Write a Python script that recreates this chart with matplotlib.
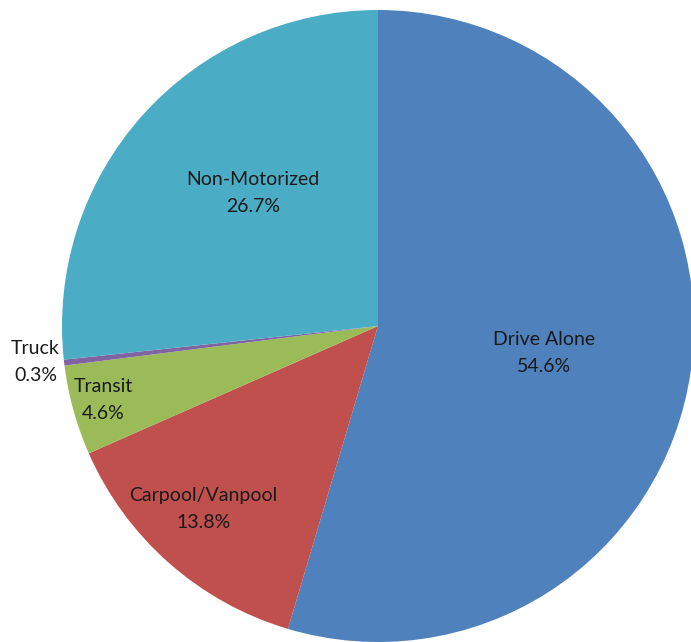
import numpy as np
import matplotlib.pyplot as plt

modes = ['Drive Alone', 'Carpool/Vanpool', 'Transit', 'Truck', 'Non-Motorized']
shares = [54.6, 13.8, 4.6, 0.3, 26.7]
colors = ['#4F81BD', '#C0504D', '#9BBB59', '#8064A2', '#4BACC6']

# label placement: radial distance and small angle shift from wedge middle
label_dist = [0.532, 0.80, 0.90, 1.09, 0.578]
label_shift = [-1.0, -2.2, -0.4, -0.7, -4.9]

fig = plt.figure(figsize=(6.91, 6.42), dpi=100)
ax = fig.add_axes([0, 0, 1, 1])

wedges, _ = ax.pie(shares, colors=colors, startangle=90, counterclock=False,
                   radius=1.0, wedgeprops=dict(linewidth=0))

for w, name, val, d, s in zip(wedges, modes, shares, label_dist, label_shift):
    theta = np.deg2rad((w.theta1 + w.theta2) / 2 + s)
    ax.text(d * np.cos(theta), d * np.sin(theta), f'{name}\n{val:.1f}%',
            ha='center', va='center', fontsize=14, family='Lato',
            color='#1a1a1a', linespacing=1.7)

# center at (378, 326) px from top-left, radius 316 px
ax.set_xlim(-378 / 316, (691 - 378) / 316)
ax.set_ylim(-316 / 316, (642 - 316) / 316)
ax.set_aspect('auto')
ax.axis('off')

fig.savefig('out.png', dpi=100)
